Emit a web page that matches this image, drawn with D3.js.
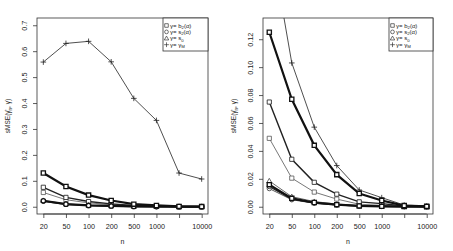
<!DOCTYPE html>
<html>
<head>
    <title>sMSE by n</title>
    <script src="https://d3js.org/d3.v7.min.js"></script>
    <style>
        body { margin: 0; background: #fff; }
        text { font-family: "Liberation Sans", Arial, sans-serif; fill: #222; }
    </style>
</head>
<body>
    <div id="chart"></div>

    <script>
        // sample sizes (2000 tick has no label in the original)
        const nValues = ["20", "50", "100", "200", "500", "1000", "2000", "10000"];

        // left panel
        const leftB2a = [0.130, 0.078, 0.045, 0.024, 0.010, 0.005, 0.0012, 0.0006];
        const leftB2b = [0.075, 0.036, 0.020, 0.011, 0.005, 0.003, 0.0008, 0.0004];
        const leftB2c = [0.055, 0.027, 0.015, 0.008, 0.004, 0.002, 0.0006, 0.0003];
        const leftS2a = [0.023, 0.010, 0.005, 0.003, 0.0012, 0.0006, 0.0002, 0.0001];
        const leftS2b = [0.021, 0.009, 0.0045, 0.0025, 0.001, 0.0005, 0.0002, 0.0001];
        const leftS0 = [0.024, 0.011, 0.0055, 0.003, 0.0013, 0.0007, 0.0002, 0.0001];
        const leftGM = [0.558, 0.630, 0.638, 0.559, 0.418, 0.333, 0.130, 0.107];
        const leftTicks = [0, 0.1, 0.2, 0.3, 0.4, 0.5, 0.6, 0.7];

        // right panel
        const rightB2a = [0.125, 0.077, 0.044, 0.023, 0.0095, 0.0045, 0.0008, 0.0003];
        const rightB2b = [0.075, 0.034, 0.0175, 0.009, 0.0035, 0.0022, 0.0005, 0.0002];
        const rightB2c = [0.049, 0.0205, 0.0105, 0.0055, 0.0018, 0.0010, 0.0003, 0.0001];
        const rightS2a = [0.0158, 0.0060, 0.0030, 0.0015, 0.0006, 0.0003, 0.0001, 0.00005];
        const rightS2b = [0.0145, 0.0055, 0.0028, 0.0013, 0.0005, 0.0003, 0.0001, 0.00005];
        const rightS2c = [0.0130, 0.0050, 0.0025, 0.0012, 0.0005, 0.0002, 0.0001, 0.00005];
        const rightS0 = [0.0185, 0.0072, 0.0037, 0.0019, 0.0008, 0.0004, 0.0001, 0.00005];
        const rightGM = [0.196, 0.103, 0.057, 0.0295, 0.012, 0.0065, 0.0012, 0.0005];
        const rightTicks = [0, 0.02, 0.04, 0.06, 0.08, 0.10, 0.12];

        const W = 453, H = 251;
        const svg = d3.select("#chart").append("svg")
            .attr("width", W).attr("height", H);

        function drawPanel(p) {
            const x = d3.scalePoint().domain(nValues)
                .range([p.left, p.right]).padding(0.28);
            const ext = (p.ymax - p.ymin) * 0.04;
            const y = d3.scaleLinear().domain([p.ymin - ext, p.ymax + ext])
                .range([214, 18]);

            const clipId = "clip" + p.id;
            svg.append("clipPath").attr("id", clipId)
                .append("rect")
                .attr("x", p.left).attr("y", 18)
                .attr("width", p.right - p.left).attr("height", 196);

            const g = svg.append("g").attr("clip-path", `url(#${clipId})`);
            const line = d3.line().x((d, i) => x(nValues[i])).y(d => y(d));

            p.series.forEach(s => {
                g.append("path")
                    .datum(s.values)
                    .attr("fill", "none")
                    .attr("stroke", s.color)
                    .attr("stroke-width", s.lw)
                    .attr("d", line);
            });

            p.series.forEach(s => {
                g.selectAll(null).data(s.values).enter()
                    .append("path")
                    .attr("transform", (d, i) => `translate(${x(nValues[i])},${y(d)})`)
                    .attr("d", symbolPath(s.shape))
                    .attr("fill", s.shape === "plus" ? "none" : "#fff")
                    .attr("stroke", s.color)
                    .attr("stroke-width", Math.max(0.8, s.lw * 0.6));
            });

            // box
            svg.append("rect")
                .attr("x", p.left).attr("y", 18)
                .attr("width", p.right - p.left).attr("height", 196)
                .attr("fill", "none").attr("stroke", "#333").attr("stroke-width", 0.8);

            // x axis
            const xAxis = svg.append("g")
                .attr("transform", "translate(0,214)")
                .call(d3.axisBottom(x).tickSize(4).tickPadding(6)
                    .tickFormat(d => d === "2000" ? "" : d));
            xAxis.select(".domain").attr("stroke", "#333").attr("stroke-width", 0.8)
                .attr("d", `M${x("20")},0H${x("10000")}`);
            xAxis.selectAll(".tick line").attr("stroke", "#333").attr("stroke-width", 0.8);
            xAxis.selectAll("text").style("font-size", "7.2px")
                .style("font-family", "Liberation Sans, Arial, sans-serif").attr("fill", "#222");

            // y axis
            const yAxis = svg.append("g")
                .attr("transform", `translate(${p.left},0)`)
                .call(d3.axisLeft(y).tickValues(p.ticks).tickSize(4)
                    .tickFormat(d3.format(p.fmt)));
            yAxis.select(".domain").remove();
            yAxis.selectAll(".tick line").attr("stroke", "#333").attr("stroke-width", 0.8);
            yAxis.selectAll("text")
                .attr("x", null).attr("dy", null)
                .attr("transform", "translate(-10.5,0) rotate(-90)")
                .attr("text-anchor", "middle")
                .style("font-size", "7.2px")
                .style("font-family", "Liberation Sans, Arial, sans-serif").attr("fill", "#222");

            // axis titles
            svg.append("text")
                .attr("x", (p.left + p.right) / 2).attr("y", 244)
                .attr("text-anchor", "middle").style("font-size", "7px")
                .text("n");

            const yl = svg.append("text")
                .attr("transform", `translate(${p.ylabX},116) rotate(-90)`)
                .attr("text-anchor", "middle").style("font-size", "6.5px");
            yl.append("tspan").text("sMSE(\u03B3\u0302");
            yl.append("tspan").attr("dy", 1.5).style("font-size", "4.5px").text("n");
            yl.append("tspan").attr("dy", -1.5).text(", \u03B3)");

            // legend
            const lx = p.legLeft, lw = p.right - p.legLeft;
            svg.append("rect")
                .attr("x", lx).attr("y", 18).attr("width", lw).attr("height", 33)
                .attr("fill", "#fff").attr("stroke", "#333").attr("stroke-width", 0.8);
            const items = [
                { shape: "square", main: "\u03B3= b", sub: "2", tail: "(\u03B1)" },
                { shape: "circle", main: "\u03B3= s", sub: "2", tail: "(\u03B1)" },
                { shape: "triangle", main: "\u03B3= s", sub: "0", tail: "" },
                { shape: "plus", main: "\u03B3= \u03B3", sub: "M", tail: "" }
            ];
            items.forEach((it, i) => {
                const cy = 25.5 + i * 6.4;
                svg.append("path")
                    .attr("transform", `translate(${lx + 3.5},${cy})`)
                    .attr("d", symbolPath(it.shape, 0.85))
                    .attr("fill", "none").attr("stroke", "#333").attr("stroke-width", 0.7);
                const t = svg.append("text")
                    .attr("x", lx + 7).attr("y", cy + 2)
                    .style("font-size", "6px");
                t.append("tspan").text(it.main);
                t.append("tspan").attr("dy", 1.3).style("font-size", "4.3px").text(it.sub);
                if (it.tail) t.append("tspan").attr("dy", -1.3).text(it.tail);
            });
        }

        function symbolPath(shape, k = 1) {
            if (shape === "square") {
                const h = 2.1 * k;
                return `M${-h},${-h}H${h}V${h}H${-h}Z`;
            }
            if (shape === "circle") {
                const r = 2.2 * k;
                return `M${r},0A${r},${r} 0 1,1 ${-r},0A${r},${r} 0 1,1 ${r},0Z`;
            }
            if (shape === "triangle") {
                const s = 2.6 * k;
                return `M0,${-s}L${s},${s * 0.75}L${-s},${s * 0.75}Z`;
            }
            const a = 2.8 * k;
            return `M${-a},0H${a}M0,${-a}V${a}`;
        }

        drawPanel({
            id: "L", left: 37, right: 208, legLeft: 163, ylabX: 10,
            ymin: 0, ymax: 0.7, ticks: leftTicks, fmt: ".1f",
            series: [
                { values: leftGM, shape: "plus", lw: 0.8, color: "#222" },
                { values: leftB2c, shape: "square", lw: 0.8, color: "#555" },
                { values: leftB2b, shape: "square", lw: 1.4, color: "#222" },
                { values: leftS0, shape: "triangle", lw: 0.8, color: "#444" },
                { values: leftS2b, shape: "circle", lw: 1.4, color: "#222" },
                { values: leftS2a, shape: "circle", lw: 2.2, color: "#111" },
                { values: leftB2a, shape: "square", lw: 2.2, color: "#111" }
            ]
        });

        drawPanel({
            id: "R", left: 263, right: 433, legLeft: 389, ylabX: 236,
            ymin: 0, ymax: 0.13, ticks: rightTicks, fmt: ".2f",
            series: [
                { values: rightGM, shape: "plus", lw: 0.8, color: "#222" },
                { values: rightB2c, shape: "square", lw: 0.8, color: "#555" },
                { values: rightB2b, shape: "square", lw: 1.4, color: "#222" },
                { values: rightS0, shape: "triangle", lw: 0.8, color: "#444" },
                { values: rightS2c, shape: "circle", lw: 0.8, color: "#333" },
                { values: rightS2b, shape: "circle", lw: 1.4, color: "#222" },
                { values: rightS2a, shape: "square", lw: 2.2, color: "#111" },
                { values: rightB2a, shape: "square", lw: 2.2, color: "#111" }
            ]
        });
    </script>
</body>
</html>
